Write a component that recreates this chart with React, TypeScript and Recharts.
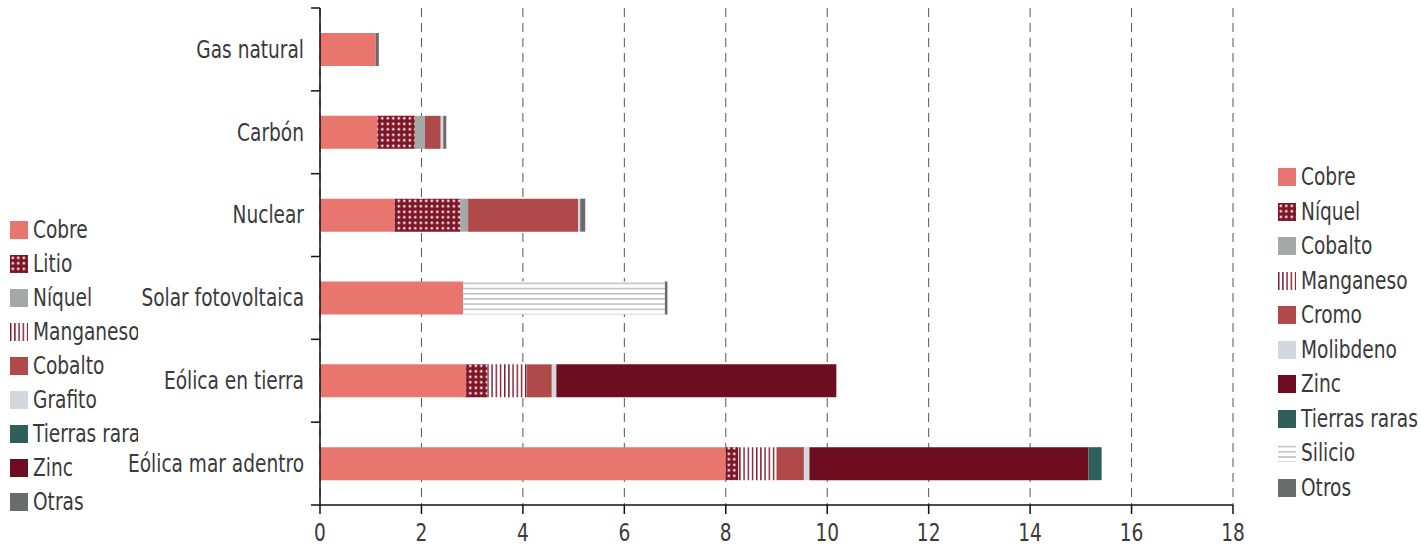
import React from 'react';
import {
  BarChart,
  Bar,
  XAxis,
  YAxis,
  CartesianGrid,
} from 'recharts';

const categories = [
  'Gas natural',
  'Carbón',
  'Nuclear',
  'Solar fotovoltaica',
  'Eólica en tierra',
  'Eólica mar adentro',
];

// valores por tecnología, en el orden de categories
const cobre = [1.1, 1.13, 1.47, 2.82, 2.88, 8.0];
const niquel = [0, 0.74, 1.3, 0, 0.42, 0.25];
const cobalto = [0, 0.2, 0.15, 0, 0, 0];
const manganeso = [0, 0, 0, 0, 0.77, 0.75];
const cromo = [0, 0.31, 2.17, 0, 0.5, 0.54];
const molibdeno = [0, 0.05, 0.04, 0, 0.09, 0.11];
const zinc = [0, 0, 0, 0, 5.52, 5.5];
const tierrasRaras = [0, 0, 0, 0, 0, 0.26];
const silicio = [0, 0, 0, 3.98, 0, 0];
const otros = [0.06, 0.06, 0.1, 0.05, 0, 0];

const xTicks = [0, 2, 4, 6, 8, 10, 12, 14, 16, 18];

// leyenda que aparece recortada a la izquierda
const leftLegendNames = ['Cobre', 'Litio', 'Níquel', 'Manganeso', 'Cobalto', 'Grafito', 'Tierras raras', 'Zinc', 'Otras'];
const leftLegendFills = ['#e8766e', 'url(#pNiquel)', '#a3a9a7', 'url(#pManganeso)', '#b0494a', '#d3d7de', '#2f5f5b', '#6d0d1f', '#6a6c6b'];

const series = [
  { key: 'cobre', name: 'Cobre', values: cobre, fill: '#e8766e' },
  { key: 'niquel', name: 'Níquel', values: niquel, fill: 'url(#pNiquel)' },
  { key: 'cobalto', name: 'Cobalto', values: cobalto, fill: '#a3a9a7' },
  { key: 'manganeso', name: 'Manganeso', values: manganeso, fill: 'url(#pManganeso)' },
  { key: 'cromo', name: 'Cromo', values: cromo, fill: '#b0494a' },
  { key: 'molibdeno', name: 'Molibdeno', values: molibdeno, fill: '#d3d7de' },
  { key: 'zinc', name: 'Zinc', values: zinc, fill: '#6d0d1f' },
  { key: 'tierras', name: 'Tierras raras', values: tierrasRaras, fill: '#2f5f5b' },
  { key: 'silicio', name: 'Silicio', values: silicio, fill: 'url(#pSilicio)' },
  { key: 'otros', name: 'Otros', values: otros, fill: '#6a6c6b' },
];

const data = categories.map((name, i) => {
  const row: Record<string, string | number> = { name };
  series.forEach((s) => {
    row[s.key] = s.values[i];
  });
  return row;
});

const FONT = '"Liberation Sans Narrow", "DejaVu Sans Condensed", "Roboto Condensed", "Liberation Sans", sans-serif';
const TEXT = '#3a3a3a';
const SQUEEZE = 0.86; // la fuente original es más estrecha

const W = 1421;
const H = 556;
const TOP = 8;
const BOTTOM = 51;
const LEFT = 320;
const RIGHT = 188;
const BAND = (H - TOP - BOTTOM) / categories.length;

function Patterns() {
  return (
    <svg width={0} height={0} style={{ position: 'absolute' }}>
      <defs>
        <pattern id="pNiquel" width={5.5} height={5.5} patternUnits="userSpaceOnUse">
          <rect width={5.5} height={5.5} fill="#7c1526" />
          <rect x={1.6} y={1.6} width={2.4} height={2.4} fill="#f6e4e4" />
        </pattern>
        <pattern id="pManganeso" width={4.2} height={4} patternUnits="userSpaceOnUse">
          <rect width={4.2} height={4} fill="#ffffff" />
          <rect x={0} y={0} width={1.4} height={4} fill="#7e1526" />
        </pattern>
        <pattern id="pSilicio" width={6} height={5.2} patternUnits="userSpaceOnUse">
          <rect width={6} height={5.2} fill="#ffffff" />
          <rect x={0} y={2} width={6} height={1.1} fill="#a8a8a8" />
        </pattern>
      </defs>
    </svg>
  );
}

function CategoryTick(props: any) {
  const { x, y, payload, index } = props;
  const last = index === categories.length - 1;
  return (
    <g>
      <line x1={LEFT - 9} x2={LEFT} y1={y - BAND / 2} y2={y - BAND / 2} stroke="#111" strokeWidth={1.5} />
      {last && (
        <line x1={LEFT - 9} x2={LEFT} y1={y + BAND / 2} y2={y + BAND / 2} stroke="#111" strokeWidth={1.5} />
      )}
      <text
        transform={`translate(${x - 8},${y}) scale(${SQUEEZE},1)`}
        dy="0.35em"
        textAnchor="end"
        fill={TEXT}
        fontSize={24}
        fontFamily={FONT}
      >
        {payload.value}
      </text>
    </g>
  );
}

function ValueTick(props: any) {
  const { x, y, payload } = props;
  return (
    <text
      transform={`translate(${x},${y}) scale(${SQUEEZE},1)`}
      dy="0.8em"
      textAnchor="middle"
      fill={TEXT}
      fontSize={24}
      fontFamily={FONT}
    >
      {payload.value}
    </text>
  );
}

function Legend({ names, fills, left, top, step, width }: any) {
  return (
    <div style={{ position: 'absolute', left, top, width, overflow: 'hidden', fontFamily: FONT }}>
      {names.map((n: string, i: number) => (
        <div key={n} style={{ display: 'flex', alignItems: 'center', height: step, whiteSpace: 'nowrap' }}>
          <svg width={18} height={18} style={{ flex: 'none' }}>
            <rect width={18} height={18} fill={fills[i]} />
          </svg>
          <span
            style={{
              display: 'inline-block',
              marginLeft: 5,
              fontSize: 24,
              color: TEXT,
              lineHeight: 1,
              transform: `scaleX(${SQUEEZE})`,
              transformOrigin: 'left center',
            }}
          >
            {n}
          </span>
        </div>
      ))}
    </div>
  );
}

export default function App() {
  return (
    <div style={{ position: 'absolute', left: 0, top: 0, width: W, height: H, background: '#fff' }}>
      <Patterns />
      <BarChart
        width={W}
        height={H}
        data={data}
        layout="vertical"
        margin={{ top: TOP, right: RIGHT, bottom: 0, left: 0 }}
      >
        <CartesianGrid horizontal={false} stroke="#555" strokeDasharray="9 6" />
        <XAxis
          type="number"
          domain={[0, 18]}
          ticks={xTicks}
          height={BOTTOM}
          axisLine={{ stroke: '#111', strokeWidth: 1.5 }}
          tickLine={{ stroke: '#111', strokeWidth: 1.5 }}
          tickSize={9}
          tickMargin={8}
          tick={<ValueTick />}
        />
        <YAxis
          type="category"
          dataKey="name"
          width={LEFT}
          axisLine={{ stroke: '#111', strokeWidth: 1.5 }}
          tickLine={false}
          tick={<CategoryTick />}
          interval={0}
        />
        {series.map((s) => (
          <Bar
            key={s.key}
            dataKey={s.key}
            name={s.name}
            stackId="a"
            fill={s.fill}
            barSize={33}
            isAnimationActive={false}
          />
        ))}
      </BarChart>
      <Legend
        names={leftLegendNames}
        fills={leftLegendFills}
        left={10}
        top={213}
        step={34}
        width={128}
      />
      <Legend
        names={series.map((s) => s.name)}
        fills={series.map((s) => s.fill)}
        left={1278}
        top={160}
        step={34.5}
        width={143}
      />
    </div>
  );
}
